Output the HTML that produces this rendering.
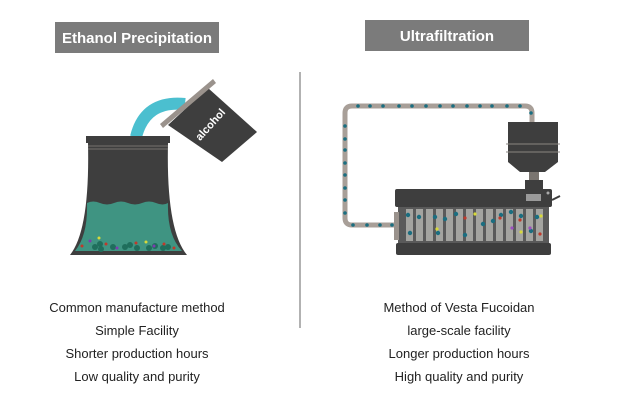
<!DOCTYPE html>
<html><head><style>
html,body{margin:0;padding:0;background:#fff;}
svg{display:block;}
text{font-family:"Liberation Sans",sans-serif;}
</style></head><body>
<svg width="623" height="410" viewBox="0 0 623 410" xmlns="http://www.w3.org/2000/svg">
<rect x="55" y="22" width="164" height="31" fill="#7b7b7b"/>
<text x="137" y="43" text-anchor="middle" fill="#fff" font-size="15" font-weight="bold">Ethanol Precipitation</text>
<rect x="365" y="20" width="164" height="31" fill="#7b7b7b"/>
<text x="447" y="41" text-anchor="middle" fill="#fff" font-size="15" font-weight="bold">Ultrafiltration</text>
<line x1="300" y1="72" x2="300" y2="328" stroke="#999" stroke-width="1.5"/>

<!-- stream -->
<path d="M136 137 Q145 100 185 104" fill="none" stroke="#4bbfcf" stroke-width="12"/>
<!-- beaker -->
<rect x="86" y="136" width="84" height="7" fill="#3e3e3e"/>
<path d="M88 143 L168 143 Q166 230 187 255 L70 255 Q90 230 88 143 Z" fill="#3e3e3e"/>
<line x1="88" y1="146" x2="168" y2="146" stroke="#8a8580" stroke-width="0.8"/>
<line x1="88" y1="149" x2="168" y2="149" stroke="#8a8580" stroke-width="0.8"/>
<path d="M87 203 Q93 200 100 203 T114 203 T128 203 T142 203 T156 203 T168 203 Q167 235 182 251 L75 251 Q88 235 87 203 Z" fill="#3f9482"/>
<g fill="#1f6e5c">
<circle cx="95" cy="247" r="3"/><circle cx="100" cy="244" r="3"/><circle cx="101" cy="249" r="3"/><circle cx="113" cy="247" r="3"/><circle cx="125" cy="247" r="3"/><circle cx="130" cy="245" r="3"/><circle cx="137" cy="248" r="3"/><circle cx="149" cy="248" r="3"/><circle cx="155" cy="246" r="3"/><circle cx="163" cy="248" r="3"/><circle cx="168" cy="247" r="3"/>
</g>
<circle cx="82" cy="246" r="1.5" fill="#c0392b"/><circle cx="90" cy="241" r="1.5" fill="#7d3cb0"/><circle cx="99" cy="238" r="1.5" fill="#d7d93a"/><circle cx="106" cy="244" r="1.5" fill="#c0392b"/><circle cx="117" cy="248" r="1.5" fill="#7d3cb0"/><circle cx="136" cy="243" r="1.5" fill="#c0392b"/><circle cx="146" cy="242" r="1.5" fill="#d7d93a"/><circle cx="154" cy="246" r="1.5" fill="#7d3cb0"/><circle cx="164" cy="244" r="1.5" fill="#c0392b"/><circle cx="174" cy="248" r="1.5" fill="#c0392b"/>
<!-- alcohol box -->
<polygon points="168,125 208,88 257,132 222,162" fill="#3e3e3e"/>
<polygon points="160,124 213,79 216,83 163,128" fill="#9a928c"/>
<text x="0" y="0" transform="translate(213,127) rotate(-48)" text-anchor="middle" fill="#fff" font-size="11" font-weight="bold">alcohol</text>

<!-- pipe -->
<path d="M395 225 L352 225 Q345 225 345 218 L345 113 Q345 106 352 106 L525 106 Q532 106 532 113 L532 122" fill="none" stroke="#a89f98" stroke-width="5"/>
<g fill="#1b6e80">
<circle cx="358" cy="106" r="1.8"/><circle cx="370" cy="106" r="1.8"/><circle cx="383" cy="106" r="1.8"/><circle cx="399" cy="106" r="1.8"/><circle cx="412" cy="106" r="1.8"/><circle cx="426" cy="106" r="1.8"/><circle cx="440" cy="106" r="1.8"/><circle cx="453" cy="106" r="1.8"/><circle cx="467" cy="106" r="1.8"/><circle cx="480" cy="106" r="1.8"/><circle cx="492" cy="106" r="1.8"/><circle cx="507" cy="106" r="1.8"/><circle cx="520" cy="106" r="1.8"/><circle cx="531" cy="113" r="1.8"/>
<circle cx="345" cy="126" r="1.8"/><circle cx="345" cy="139" r="1.8"/><circle cx="345" cy="150" r="1.8"/><circle cx="345" cy="163" r="1.8"/><circle cx="345" cy="175" r="1.8"/><circle cx="345" cy="188" r="1.8"/><circle cx="345" cy="200" r="1.8"/><circle cx="345" cy="213" r="1.8"/><circle cx="353" cy="225" r="1.8"/><circle cx="367" cy="225" r="1.8"/><circle cx="380" cy="225" r="1.8"/><circle cx="392" cy="225" r="1.8"/>
</g>
<!-- hopper -->
<rect x="508" y="122" width="50" height="40" fill="#3e3e3e"/>
<line x1="506" y1="144" x2="560" y2="144" stroke="#8a8580" stroke-width="1"/>
<line x1="506" y1="152" x2="560" y2="152" stroke="#8a8580" stroke-width="1"/>
<polygon points="508,162 558,162 545,172 520,172" fill="#3e3e3e"/>
<rect x="529" y="172" width="10" height="8" fill="#7a7570"/>
<rect x="525" y="180" width="18" height="10" fill="#3e3e3e"/>
<!-- machine -->
<rect x="395" y="189" width="157" height="18" rx="2" fill="#3e3e3e"/>
<rect x="526" y="194" width="15" height="7" fill="#9a9a9a"/>
<circle cx="548" cy="193" r="1.5" fill="#aaa"/>
<line x1="552" y1="200" x2="560" y2="196" stroke="#3e3e3e" stroke-width="2"/>
<rect x="398" y="207" width="151" height="36" fill="#5a5a5a"/>
<rect x="394" y="212" width="5" height="28" fill="#9a928c"/>
<g fill="#a4a4a0">
<rect x="406" y="209" width="7" height="32"/><rect x="416" y="209" width="7" height="32"/><rect x="426" y="209" width="7" height="32"/><rect x="436" y="209" width="7" height="32"/><rect x="446" y="209" width="7" height="32"/><rect x="456" y="209" width="7" height="32"/><rect x="466" y="209" width="7" height="32"/><rect x="476" y="209" width="7" height="32"/><rect x="486" y="209" width="7" height="32"/><rect x="496" y="209" width="7" height="32"/><rect x="506" y="209" width="7" height="32"/><rect x="516" y="209" width="7" height="32"/><rect x="526" y="209" width="7" height="32"/><rect x="536" y="209" width="7" height="32"/>
</g>
<g fill="#1b6e80">
<circle cx="408" cy="215" r="2.2"/><circle cx="410" cy="233" r="2.2"/><circle cx="419" cy="217" r="2.2"/><circle cx="435" cy="217" r="2.2"/><circle cx="438" cy="233" r="2.2"/><circle cx="445" cy="219" r="2.2"/><circle cx="456" cy="214" r="2.2"/><circle cx="465" cy="235" r="2.2"/><circle cx="483" cy="224" r="2.2"/><circle cx="493" cy="221" r="2.2"/><circle cx="501" cy="215" r="2.2"/><circle cx="511" cy="212" r="2.2"/><circle cx="521" cy="216" r="2.2"/><circle cx="531" cy="231" r="2.2"/><circle cx="537" cy="217" r="2.2"/>
</g>
<circle cx="465" cy="218" r="1.6" fill="#c0392b"/><circle cx="475" cy="214" r="1.6" fill="#d7d93a"/><circle cx="437" cy="229" r="1.6" fill="#d7d93a"/><circle cx="500" cy="218" r="1.6" fill="#c0392b"/><circle cx="512" cy="228" r="1.6" fill="#9b4fc0"/><circle cx="520" cy="220" r="1.6" fill="#c0392b"/><circle cx="521" cy="232" r="1.6" fill="#d7d93a"/><circle cx="530" cy="228" r="1.6" fill="#9b4fc0"/><circle cx="541" cy="216" r="1.6" fill="#d7d93a"/><circle cx="540" cy="234" r="1.6" fill="#c0392b"/>
<rect x="396" y="243" width="155" height="12" rx="2" fill="#3e3e3e"/>

<g font-size="13" fill="#222" text-anchor="middle">
<text x="137" y="312">Common manufacture method</text>
<text x="137" y="335">Simple Facility</text>
<text x="137" y="358">Shorter production hours</text>
<text x="137" y="381">Low quality and purity</text>
<text x="459" y="312">Method of Vesta Fucoidan</text>
<text x="459" y="335">large-scale facility</text>
<text x="459" y="358">Longer production hours</text>
<text x="459" y="381">High quality and purity</text>
</g>
</svg>
</body></html>
